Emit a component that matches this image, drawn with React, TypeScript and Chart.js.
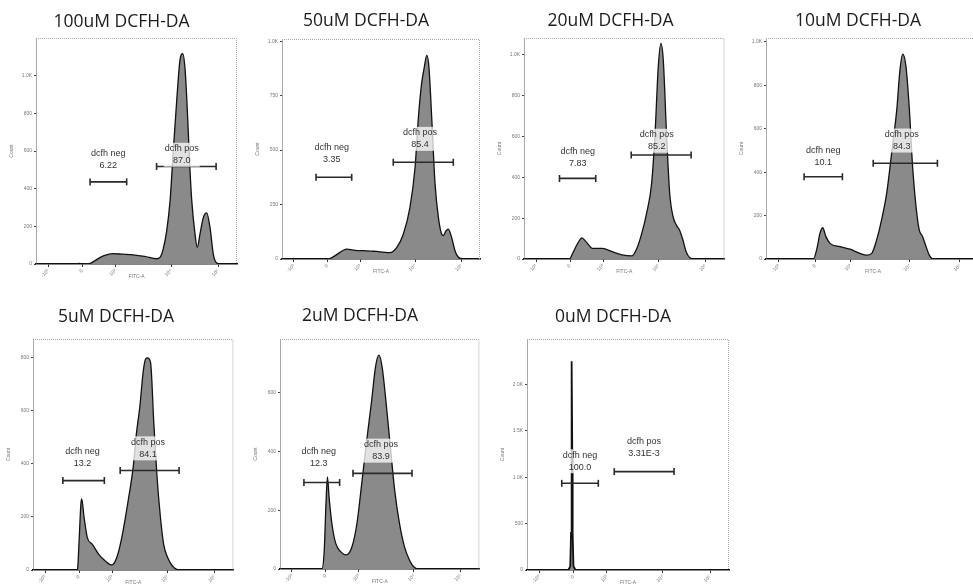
import React, { useEffect, useRef } from 'react';
import { Chart, registerables } from 'chart.js';
Chart.register(...registerables);

// ---------------- data ----------------
const titles = ['100uM DCFH-DA', '50uM DCFH-DA', '20uM DCFH-DA', '10uM DCFH-DA', '5uM DCFH-DA', '2uM DCFH-DA', '0uM DCFH-DA'];

// x axis (FITC-A, display channel 0..1000, biexponential ticks)
const xTickValues = [60, 230, 395, 672, 906];
const xTickLabels = ['-10³', '0', '10³', '10⁴', '10⁵'];

const fitc100 = [0, 150, 200, 215, 230, 265, 290, 320, 350, 385, 430, 484, 540, 600, 617, 633, 650, 667, 683, 700, 716, 730, 741, 750, 758, 766, 775, 791, 802, 816, 832, 849, 866, 882, 899, 915, 1000];
const count100 = [0, 0, 0, 3, 0, 2, 15, 35, 48, 55, 52, 48, 40, 28, 35, 80, 175, 335, 600, 867, 1080, 1117, 1043, 880, 692, 500, 335, 160, 88, 160, 245, 271, 192, 53, 5, 0, 0];

const fitc50 = [0, 226, 242, 276, 310, 327, 370, 411, 450, 478, 510, 545, 579, 613, 646, 672, 689, 705, 719, 731, 742, 756, 773, 790, 806, 815, 828, 840, 857, 874, 890, 916, 1000];
const count50 = [0, 0, 2, 20, 40, 45, 40, 38, 36, 35, 32, 29, 52, 115, 236, 420, 651, 805, 882, 935, 882, 651, 345, 190, 115, 108, 129, 137, 98, 37, 9, 0, 0];

const fitc20 = [0, 227, 243, 268, 289, 309, 342, 391, 440, 489, 539, 563, 588, 612, 637, 654, 670, 683, 695, 711, 727, 744, 760, 776, 793, 809, 826, 850, 1000];
const count20 = [0, 0, 28, 77, 104, 85, 52, 52, 36, 20, 15, 52, 127, 225, 372, 617, 942, 1057, 975, 617, 322, 207, 167, 142, 93, 36, 8, 0, 0];

const fitc10 = [0, 221, 240, 252, 265, 280, 299, 346, 393, 439, 470, 494, 517, 540, 564, 587, 611, 626, 639, 654, 670, 685, 701, 716, 732, 748, 763, 782, 1000];
const count10 = [0, 0, 57, 118, 144, 103, 72, 57, 45, 26, 18, 26, 88, 180, 303, 487, 687, 871, 944, 887, 687, 425, 241, 134, 103, 57, 18, 0, 0];

const fitc5 = [0, 217, 222, 230, 239, 243, 255, 271, 296, 328, 361, 394, 418, 443, 475, 500, 516, 533, 549, 560, 568, 574, 587, 603, 619, 636, 652, 672, 696, 729, 1000];
const count5 = [0, 0, 2, 110, 249, 268, 198, 122, 97, 59, 34, 19, 47, 122, 262, 388, 514, 615, 742, 792, 800, 799, 780, 552, 350, 198, 97, 47, 15, 0, 0];

const fitc2 = [0, 210, 222, 230, 238, 246, 260, 279, 304, 332, 361, 386, 410, 435, 460, 479, 496, 512, 534, 555, 575, 599, 624, 649, 673, 698, 1000];
const count2 = [0, 0, 65, 212, 314, 246, 156, 88, 59, 48, 76, 156, 292, 439, 576, 689, 729, 689, 553, 405, 269, 156, 76, 31, 6, 0, 0];

const fitc0 = [0, 205, 214, 218, 220, 222, 224, 226, 230, 240, 1000];
const count0 = [0, 0, 40, 400, 1300, 2250, 1300, 400, 40, 0, 0];

const fitcSeries = [fitc100, fitc50, fitc20, fitc10, fitc5, fitc2, fitc0];
const countSeries = [count100, count50, count20, count10, count5, count2, count0];

// y axis (Count)
const yMax = [1200, 1010, 1083, 1018, 871, 784, 2489];
const yTicks100 = [0, 200, 400, 600, 800, 1000];
const yTicks50 = [0, 250, 500, 750, 1000];
const yTicks20 = [0, 200, 400, 600, 800, 1000];
const yTicks10 = [0, 200, 400, 600, 800, 1000];
const yTicks5 = [0, 200, 400, 600, 800];
const yTicks2 = [0, 200, 400, 600];
const yTicks0 = [0, 500, 1000, 1500, 2000];
const yTickSets = [yTicks100, yTicks50, yTicks20, yTicks10, yTicks5, yTicks2, yTicks0];

// gates
const negName = 'dcfh neg';
const posName = 'dcfh pos';
const negPct = ['6.22', '3.35', '7.83', '10.1', '13.2', '12.3', '100.0'];
const posPct = ['87.0', '85.4', '85.2', '84.3', '84.1', '83.9', '3.31E-3'];
const negGateFrom = [269, 172, 177, 178, 149, 120, 172];
const negGateTo = [451, 352, 358, 357, 356, 299, 353];
const negGateLevel = [436, 375, 395, 379, 337, 295, 934];
const posGateFrom = [600, 562, 535, 501, 435, 366, 432];
const posGateTo = [896, 865, 834, 801, 729, 662, 728];
const posGateLevel = [518, 444, 510, 441, 375, 326, 1060];
const negLabelX = [360, 251, 268, 268, 247, 194, 262];
const negLabelLevel = [521, 455, 469, 444, 401, 358, 1107];
const posLabelX = [725, 697, 662, 634, 574, 506, 579];
const posLabelLevel = [548, 524, 550, 518, 436, 383, 1252];

// ---------------- layout (pixels) ----------------
const layouts = [
  { boxL: 36, boxR: 237, boxT: 38, boxB: 264, titleX: 126, titleY: 22 },
  { boxL: 282, boxR: 480, boxT: 39, boxB: 259, titleX: 370, titleY: 21.5 },
  { boxL: 524, boxR: 727, boxT: 38, boxB: 259, titleX: 612, titleY: 21 },
  { boxL: 766, boxR: 980, boxT: 38, boxB: 259, titleX: 873, titleY: 21 },
  { boxL: 33, boxR: 237, boxT: 339, boxB: 570, titleX: 117, titleY: 317.5 },
  { boxL: 280, boxR: 483, boxT: 339, boxB: 569, titleX: 361, titleY: 316.5 },
  { boxL: 527, boxR: 729, boxT: 339, boxB: 570, titleX: 617, titleY: 317 },
];

function fmtCount(v: number) {
  return v >= 1000 ? (v / 1000).toFixed(1) + 'K' : String(v);
}

function Panel({ i }: { i: number }) {
  const ref = useRef<HTMLCanvasElement>(null);
  const L = layouts[i];
  const left = Math.min(L.boxL - 30, 2 * L.titleX - L.boxR - 2);
  const width = Math.round(2 * (L.titleX - left));
  const top = Math.round(L.titleY - 12.5);
  const height = L.boxB + 22 - top;
  const yW = L.boxL - left;

  useEffect(() => {
    if (!ref.current) return;
    const fitc = fitcSeries[i];
    const cnt = countSeries[i];
    const gateStyle = {
      type: 'line' as const,
      borderColor: '#2a2a2a',
      borderWidth: 1.6,
      pointStyle: 'line' as const,
      rotation: 90,
      pointRadius: 3.5,
      pointBorderColor: '#2a2a2a',
      pointBorderWidth: 1.6,
      fill: false,
      tension: 0,
      order: 0,
    };
    const boxPlugin = {
      id: 'boxOutline',
      afterDraw(chart: any) {
        const { ctx, chartArea: a } = chart;
        ctx.save();
        ctx.strokeStyle = '#aaa';
        ctx.lineWidth = 1;
        ctx.setLineDash([1, 1]);
        ctx.beginPath();
        ctx.moveTo(a.left, a.top + 0.5);
        ctx.lineTo(a.right - 0.5, a.top + 0.5);
        ctx.lineTo(a.right - 0.5, a.bottom);
        ctx.stroke();
        ctx.restore();
      },
    };
    const labelPlugin = {
      id: 'gateLabels',
      afterDatasetsDraw(chart: any) {
        const { ctx, scales } = chart;
        const items = [
          { x: negLabelX[i], lvl: negLabelLevel[i], lines: [negName, negPct[i]] },
          { x: posLabelX[i], lvl: posLabelLevel[i], lines: [posName, posPct[i]] },
        ];
        ctx.save();
        ctx.font = '9px "Liberation Sans", Arial, sans-serif';
        ctx.textAlign = 'center';
        ctx.textBaseline = 'middle';
        items.forEach((it) => {
          const px = scales.x.getPixelForValue(it.x);
          const y2 = scales.y.getPixelForValue(it.lvl);
          const y1 = y2 - 12;
          const w = Math.max(...it.lines.map((t) => ctx.measureText(t).width));
          ctx.fillStyle = 'rgba(255,255,255,0.75)';
          ctx.fillRect(px - w / 2 - 1, y1 - 6, w + 2, 24);
          ctx.fillStyle = '#333';
          ctx.fillText(it.lines[0], px, y1);
          ctx.fillText(it.lines[1], px, y2);
        });
        ctx.restore();
      },
    };
    const chart = new Chart(ref.current, {
      type: 'line',
      data: {
        datasets: [
          {
            data: fitc.map((x, k) => ({ x, y: cnt[k] })),
            borderColor: '#111',
            borderWidth: i === 6 ? 1.8 : 1.3,
            backgroundColor: '#8a8a8a',
            fill: 'origin',
            pointRadius: 0,
            cubicInterpolationMode: i === 6 ? 'default' : 'monotone',
            tension: i === 6 ? 0 : 0.4,
            order: 2,
          } as any,
          {
            ...gateStyle,
            data: [
              { x: negGateFrom[i], y: negGateLevel[i] },
              { x: negGateTo[i], y: negGateLevel[i] },
            ],
          },
          {
            ...gateStyle,
            data: [
              { x: posGateFrom[i], y: posGateLevel[i] },
              { x: posGateTo[i], y: posGateLevel[i] },
            ],
          },
        ],
      },
      options: {
        responsive: false,
        animation: false,
        devicePixelRatio: 1,
        layout: { padding: { left: 0, right: left + width - L.boxR, top: 0, bottom: 0 } },
        plugins: {
          legend: { display: false },
          tooltip: { enabled: false },
          title: {
            display: true,
            text: titles[i],
            color: '#1c1c1c',
            font: { family: '"Open Sans", sans-serif', size: 17.5, lineHeight: 1, weight: 'normal' },
            padding: { top: L.titleY - 8.75 - top, bottom: L.boxT - L.titleY - 8.75 },
          },
        },
        scales: {
          x: {
            type: 'linear',
            min: 0,
            max: 1000,
            afterBuildTicks: (s: any) => {
              s.ticks = xTickValues.map((v) => ({ value: v }));
            },
            afterFit: (s: any) => {
              s.height = height - (L.boxB - top);
            },
            ticks: {
              callback: (_v: any, idx: number) => xTickLabels[idx],
              font: { size: 5, family: '"Liberation Sans", Arial' },
              color: '#777',
              minRotation: 45,
              maxRotation: 45,
              padding: 1,
            },
            grid: { drawOnChartArea: false, drawTicks: true, tickLength: 3, color: '#333' },
            border: { color: '#111', width: 1.5 },
            title: {
              display: true,
              text: 'FITC-A',
              font: { size: 5, family: '"Liberation Sans", Arial' },
              color: '#777',
              padding: { top: 0, bottom: 6 },
            },
          },
          y: {
            type: 'linear',
            min: 0,
            max: yMax[i],
            afterBuildTicks: (s: any) => {
              s.ticks = yTickSets[i].map((v) => ({ value: v }));
            },
            afterFit: (s: any) => {
              s.width = yW;
            },
            ticks: {
              callback: (v: any) => fmtCount(Number(v)),
              font: { size: 5, family: '"Liberation Sans", Arial' },
              color: '#777',
              padding: 2,
            },
            grid: { drawOnChartArea: false, drawTicks: true, tickLength: 2, color: '#444' },
            border: { color: '#aaa', width: 1 },
            title: {
              display: true,
              text: 'Count',
              font: { size: 5, family: '"Liberation Sans", Arial' },
              color: '#777',
              padding: { top: Math.max(0, yW - 27), bottom: 0 },
            },
          },
        },
      } as any,
      plugins: [boxPlugin, labelPlugin],
    });
    return () => chart.destroy();
  }, [i]);

  return (
    <canvas
      ref={ref}
      width={width}
      height={height}
      style={{ position: 'absolute', left, top, width, height }}
    />
  );
}

export default function App() {
  return (
    <div
      style={{
        position: 'fixed',
        left: 0,
        top: 0,
        width: 973,
        height: 587,
        overflow: 'hidden',
        background: '#fff',
      }}
    >
      {titles.map((_, i) => (
        <Panel key={i} i={i} />
      ))}
    </div>
  );
}
